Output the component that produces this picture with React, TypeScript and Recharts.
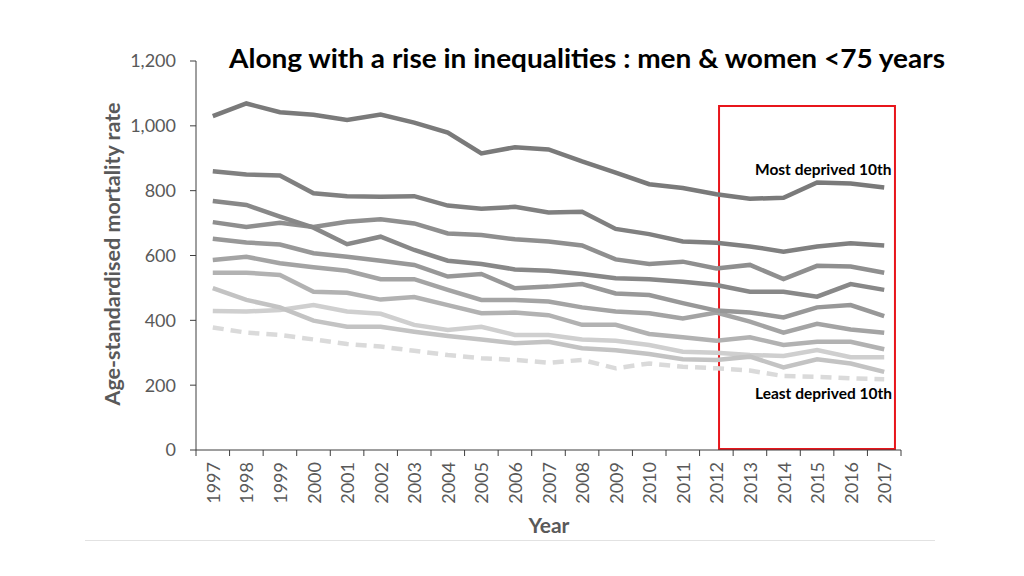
import React from "react";
import { LineChart, Line, XAxis, YAxis, ReferenceArea } from "recharts";

const years = [1997, 1998, 1999, 2000, 2001, 2002, 2003, 2004, 2005, 2006, 2007, 2008, 2009, 2010, 2011, 2012, 2013, 2014, 2015, 2016, 2017];

const d1 = [1030, 1069, 1042, 1034, 1018, 1035, 1010, 979, 915, 934, 927, 890, 856, 820, 808, 789, 775, 778, 825, 822, 810];
const d2 = [860, 850, 847, 792, 783, 781, 783, 754, 744, 750, 733, 735, 682, 666, 643, 639, 628, 612, 628, 638, 631];
const d3 = [768, 756, 720, 686, 635, 658, 617, 584, 574, 557, 553, 543, 530, 527, 519, 509, 488, 488, 473, 512, 494];
const d4 = [703, 688, 701, 688, 704, 712, 699, 668, 663, 650, 643, 631, 588, 574, 581, 560, 571, 527, 568, 566, 547];
const d5 = [652, 640, 634, 607, 596, 584, 571, 535, 543, 499, 504, 512, 483, 478, 453, 430, 424, 409, 440, 447, 413];
const d6 = [586, 596, 576, 564, 553, 527, 527, 494, 463, 463, 458, 440, 427, 422, 406, 424, 396, 362, 389, 372, 362];
const d7 = [547, 547, 540, 488, 485, 464, 472, 447, 422, 424, 416, 386, 386, 358, 348, 337, 348, 324, 334, 334, 311];
const d8 = [499, 463, 440, 399, 380, 380, 365, 352, 341, 329, 334, 314, 308, 296, 280, 278, 288, 255, 280, 267, 241];
const d9 = [429, 427, 432, 447, 427, 420, 386, 370, 380, 355, 355, 341, 337, 324, 303, 300, 293, 290, 308, 286, 286];
const d10 = [378, 362, 355, 341, 327, 319, 306, 293, 283, 278, 269, 278, 252, 267, 257, 252, 245, 228, 226, 221, 218];

const yTicks = [0, 200, 400, 600, 800, 1000, 1200];
const boundaryTicks = [1996.5, ...years.map((y) => y + 0.5)];
const xTicks = [...years, ...boundaryTicks].sort((a, b) => a - b);

const seriesList = [
  { key: "d10", values: d10, color: "#dadada", dash: "11 7" },
  { key: "d9", values: d9, color: "#cfcfcf" },
  { key: "d8", values: d8, color: "#c3c3c3" },
  { key: "d7", values: d7, color: "#b2b2b2" },
  { key: "d6", values: d6, color: "#a4a4a4" },
  { key: "d5", values: d5, color: "#989898" },
  { key: "d4", values: d4, color: "#8f8f8f" },
  { key: "d3", values: d3, color: "#888888" },
  { key: "d2", values: d2, color: "#808080" },
  { key: "d1", values: d1, color: "#7a7a7a" },
];

const data = years.map((year, i) => {
  const row: any = { year };
  seriesList.forEach((s) => {
    row[s.key] = s.values[i];
  });
  return row;
});

const FONT = "Lato, 'Open Sans', sans-serif";
const AXIS = "#3f3f3f";
const TXT = "#595959";

const XTick = (props: any) => {
  const { x, y, payload } = props;
  const v = payload.value;
  if (Number.isInteger(v)) {
    return (
      <text
        transform={`translate(${x},${y + 12}) rotate(-90)`}
        textAnchor="end"
        dominantBaseline="central"
        fontFamily={FONT}
        fontSize={18}
        fill={TXT}
      >
        {v}
      </text>
    );
  }
  return <line x1={x} x2={x} y1={y} y2={y + 6} stroke={AXIS} strokeWidth={1} />;
};

const fmt = (v: number) => v.toLocaleString("en-US");

export default function App() {
  return (
    <div style={{ position: "absolute", left: 0, top: 0, width: 1024, height: 576, background: "#fff", fontFamily: FONT }}>
      <LineChart
        width={1024}
        height={576}
        data={data}
        margin={{ top: 61, right: 123, bottom: 66, left: 0 }}
      >
        <XAxis
          dataKey="year"
          type="number"
          domain={[1996.5, 2017.5]}
          ticks={xTicks}
          interval={0}
          tick={<XTick />}
          tickLine={false}
          tickSize={0}
          tickMargin={0}
          height={60}
          axisLine={{ stroke: AXIS, strokeWidth: 1 }}
          allowDataOverflow
        />
        <YAxis
          width={196}
          domain={[0, 1200]}
          ticks={yTicks}
          interval={0}
          tickFormatter={fmt}
          tickSize={6}
          tickMargin={14}
          tick={{ fill: TXT, fontSize: 18, fontFamily: FONT }}
          tickLine={{ stroke: AXIS }}
          axisLine={{ stroke: AXIS, strokeWidth: 1 }}
        />
        {seriesList.map((s) => (
          <Line
            key={s.key}
            dataKey={s.key}
            type="linear"
            stroke={s.color}
            strokeWidth={4.5}
            strokeDasharray={s.dash}
            dot={false}
            activeDot={false}
            isAnimationActive={false}
          />
        ))}
        <ReferenceArea
          x1={2012.08}
          x2={2017.32}
          y1={3}
          y2={1061}
          fill="none"
          fillOpacity={0}
          stroke="#e8151b"
          strokeWidth={2}
          ifOverflow="visible"
        />
      </LineChart>
      <svg width={1024} height={576} style={{ position: "absolute", left: 0, top: 0, pointerEvents: "none" }}>
        <text x={229} y={68} fontFamily={FONT} fontWeight="bold" fontSize={27} fill="#000" textLength={716} lengthAdjust="spacingAndGlyphs">
          Along with a rise in inequalities : men &amp; women &lt;75 years
        </text>
        <text
          transform="translate(112,254) rotate(-90)"
          textAnchor="middle"
          dominantBaseline="central"
          fontFamily={FONT}
          fontWeight="bold"
          fontSize={21.5}
          fill={TXT}
        >
          Age-standardised mortality rate
        </text>
        <text x={549} y={524} textAnchor="middle" dominantBaseline="central" fontFamily={FONT} fontWeight="bold" fontSize={21} fill={TXT}>
          Year
        </text>
        <text x={755} y={169} dominantBaseline="central" fontFamily={FONT} fontWeight="bold" fontSize={15.5} fill="#000">
          Most deprived 10th
        </text>
        <text x={755} y={393} dominantBaseline="central" fontFamily={FONT} fontWeight="bold" fontSize={15.5} fill="#000">
          Least deprived 10th
        </text>
        <line x1={85} x2={935} y1={540.5} y2={540.5} stroke="#e2e2e2" strokeWidth={1} />
      </svg>
    </div>
  );
}
